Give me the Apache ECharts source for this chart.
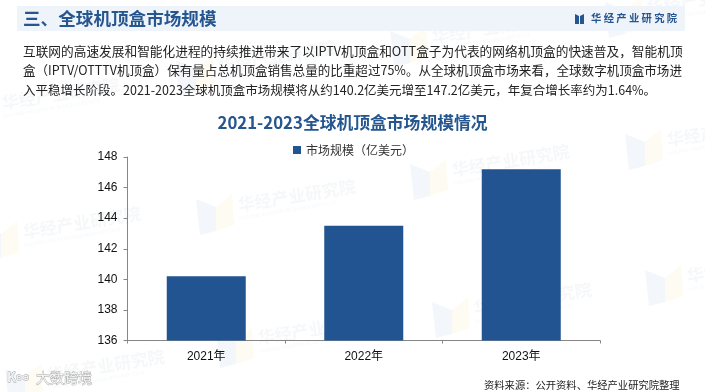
<!DOCTYPE html>
<html><head><meta charset="utf-8">
<style>html,body{margin:0;padding:0;background:#fff}#c{width:705px;height:392px}</style>
<script src="https://cdn.jsdelivr.net/npm/echarts@6/dist/echarts.min.js"></script>
</head><body><div id="c"></div>
<script>
const categories = ['2021年','2022年','2023年'];
const marketSize = [140.2,143.5,147.2];
const seriesName = '市场规模（亿美元）';
const chartTitle = '2021-2023全球机顶盒市场规模情况';
const heading = '三、全球机顶盒市场规模';
const brand = '华经产业研究院';
const bodyLines = [
 '互联网的高速发展和智能化进程的持续推进带来了以IPTV机顶盒和OTT盒子为代表的网络机顶盒的快速普及，智能机顶',
 '盒（IPTV/OTTTV机顶盒）保有量占总机顶盒销售总量的比重超过75%。从全球机顶盒市场来看，全球数字机顶盒市场进',
 '入平稳增长阶段。2021-2023全球机顶盒市场规模将从约140.2亿美元增至147.2亿美元，年复合增长率约为1.64%。'
];
const bodySizes = [12.7,12.55,12.5];
const bodyRows = [51,70,90];
const source = '资料来源：公开资料、华经产业研究院整理';
const cjk = '"Noto Sans CJK SC","Noto Sans",sans-serif';
const wmSpots = [[2,103],[218,66],[432,37],[647,8],[238,205],[452,170],[667,140],[23,232],[258,338],[47,375],[474,308],[687,276]];
const wm = [];
wmSpots.forEach(([x,y])=>{
  wm.push({type:'text',z:0,x:x,y:y,rotation:0.16,silent:true,
    style:{text:brand,font:'bold 17px '+cjk,fill:'rgba(60,90,130,0.05)',textVerticalAlign:'middle'}});
  wm.push({type:'text',z:0,x:x+1,y:y+13,rotation:0.16,silent:true,
    style:{text:'HUAJING INDUSTRY RESEARCH INSTITUTE',font:'5px '+cjk,fill:'rgba(60,90,130,0.05)',textVerticalAlign:'middle'}});
  wm.push({type:'polygon',z:0,silent:true,shape:{points:[[x-42,y-6],[x-22,y+2],[x-22,y+26],[x-38,y+30]]},style:{fill:'rgba(90,140,200,0.07)'}});
  wm.push({type:'polygon',z:0,silent:true,shape:{points:[[x-22,y+2],[x-6,y-11],[x-4,y+20],[x-22,y+26]]},style:{fill:'rgba(245,210,90,0.08)'}});
});
const chart = echarts.init(document.getElementById('c'),null,{renderer:'canvas'});
chart.setOption({
  animation:false,
  backgroundColor:'#fff',
  title:{text:chartTitle,left:'center',top:109,itemGap:0,
    textStyle:{color:'#25568f',fontSize:16.8,fontWeight:'bold',fontFamily:cjk}},
  legend:{top:139,left:288,icon:'rect',itemWidth:8,itemHeight:8,itemGap:4,
    textStyle:{color:'#333',fontSize:12,fontFamily:cjk},data:[seriesName]},
  grid:{left:127.5,right:105,top:157,bottom:51.5},
  xAxis:{type:'category',data:categories,
    axisLine:{lineStyle:{color:'#868686'}},
    axisTick:{show:true,alignWithLabel:false,length:3,lineStyle:{color:'#868686'}},
    axisLabel:{color:'#111',fontSize:12,margin:10,fontFamily:'"Liberation Sans",'+cjk}},
  yAxis:{type:'value',min:136,max:148,interval:2,
    axisLine:{show:true,lineStyle:{color:'#868686'}},
    axisTick:{show:true,length:4,inside:false,lineStyle:{color:'#868686'}},
    splitLine:{show:false},
    axisLabel:{color:'#111',fontSize:12,margin:10,fontFamily:'"Liberation Sans",sans-serif'}},
  series:[{name:seriesName,type:'bar',data:marketSize,barWidth:79,z:3,itemStyle:{color:'#215491'}}],
  graphic:wm.concat([
    {type:'rect',z:1,silent:true,shape:{x:17,y:6,width:668,height:25},style:{fill:'#edf3fb',opacity:0.9}},
    {type:'text',z:2,x:23,y:18.5,style:{text:heading,font:'bold 17.6px '+cjk,fill:'#25568f',textVerticalAlign:'middle'}},
    {type:'polygon',z:2,shape:{points:[[575,14],[579,16],[579,24],[575,24]]},style:{fill:'#25568f'}},
    {type:'polygon',z:2,shape:{points:[[580,16],[584,14],[584,24],[580,24]]},style:{fill:'#25568f'}},
    {type:'text',z:2,x:591,y:18,style:{text:brand.split('').join(' '),font:'bold 10.3px '+cjk,fill:'#25568f',textVerticalAlign:'middle'}},
    ...bodyLines.map((t,i)=>({type:'text',z:2,x:23,y:bodyRows[i],style:{text:t,font:bodySizes[i]+'px '+cjk,fill:'#222',textVerticalAlign:'middle'}})),
    {type:'text',z:2,x:484,y:385,style:{text:source,font:'10.3px '+cjk,fill:'#222',textVerticalAlign:'middle'}},
    {type:'text',z:5,x:7,y:377,style:{text:'K∞',font:'bold 13px '+cjk,fill:'#eef1f4',stroke:'#a5a5a5',lineWidth:0.8,textVerticalAlign:'middle'}},
    {type:'text',z:5,x:36,y:378,style:{text:'大数跨境',font:'14px '+cjk,fill:'#f1f1f1',stroke:'#a5a5a5',lineWidth:0.8,textVerticalAlign:'middle'}}
  ])
});
</script></body></html>
